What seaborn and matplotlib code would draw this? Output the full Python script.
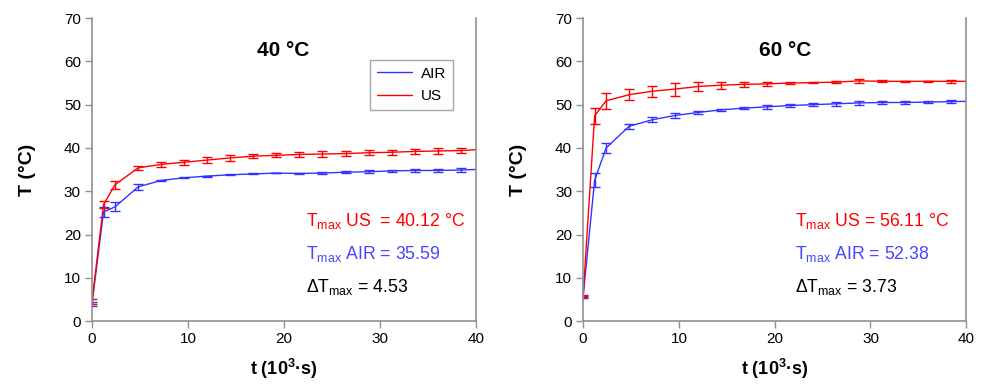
import matplotlib
matplotlib.use("Agg")
import matplotlib.pyplot as plt
import seaborn as sns
import pandas as pd

# ---- data ----
t = [0, 1.2, 2.4, 4.8, 7.2, 9.6, 12, 14.4, 16.8, 19.2, 21.6, 24, 26.4, 28.8, 31.2, 33.6, 36, 38.4, 40.8]

us_40 = [4.5, 26.9, 31.5, 35.4, 36.2, 36.7, 37.2, 37.7, 38.1, 38.3, 38.5, 38.6, 38.7, 38.9, 39.0, 39.2, 39.3, 39.4, 39.7]
us_40_err = [0.5, 0.8, 0.9, 0.5, 0.6, 0.6, 0.6, 0.6, 0.5, 0.5, 0.6, 0.6, 0.6, 0.6, 0.6, 0.6, 0.6, 0.5, 0.5]
air_40 = [4.0, 25.2, 26.4, 31.0, 32.5, 33.1, 33.5, 33.8, 34.0, 34.2, 34.1, 34.2, 34.4, 34.5, 34.7, 34.8, 34.8, 34.9, 35.1]
air_40_err = [0.5, 1.1, 1.0, 0.6, 0.2, 0.15, 0.1, 0.1, 0.1, 0.1, 0.2, 0.2, 0.2, 0.3, 0.3, 0.3, 0.3, 0.4, 0.4]

us_60 = [5.8, 47.4, 50.9, 52.3, 53.1, 53.6, 54.2, 54.5, 54.7, 54.8, 55.0, 55.1, 55.2, 55.5, 55.4, 55.4, 55.4, 55.4, 55.4]
us_60_err = [0.3, 1.8, 1.8, 1.3, 1.3, 1.5, 1.0, 0.8, 0.6, 0.4, 0.2, 0.1, 0.2, 0.4, 0.2, 0.1, 0.1, 0.3, 0.3]
air_60 = [5.6, 32.5, 40.0, 45.0, 46.5, 47.5, 48.2, 48.8, 49.2, 49.5, 49.8, 50.0, 50.2, 50.4, 50.5, 50.5, 50.6, 50.7, 50.8]
air_60_err = [0.3, 1.6, 1.2, 0.6, 0.6, 0.5, 0.3, 0.3, 0.3, 0.4, 0.4, 0.3, 0.4, 0.4, 0.4, 0.4, 0.3, 0.3, 0.3]

titles = ["40 °C", "60 °C"]
ann_us = ["40.12 °C", "56.11 °C"]
ann_air = ["35.59", "52.38"]
ann_dt = ["4.53", "3.73"]
us_sep = ["  = ", " = "]

RED = "#ff0000"
BLUE = "#3333ff"
BLUE_TXT = "#4646ff"

sns.set_theme(style="white")
plt.rcParams["font.family"] = ["Liberation Sans", "DejaVu Sans"]
plt.rcParams["mathtext.fontset"] = "custom"
plt.rcParams["mathtext.rm"] = "Liberation Sans"
plt.rcParams["mathtext.it"] = "Liberation Sans:italic"
plt.rcParams["mathtext.bf"] = "Liberation Sans:bold"
plt.rcParams["text.color"] = "black"
plt.rcParams["axes.labelcolor"] = "black"

fig = plt.figure(figsize=(9.85, 3.85), dpi=100)
ax1 = fig.add_axes([0.0934, 0.166, 0.390, 0.787])
ax2 = fig.add_axes([0.592, 0.166, 0.389, 0.787])

datasets = [(ax1, us_40, us_40_err, air_40, air_40_err),
            (ax2, us_60, us_60_err, air_60, air_60_err)]

for i, (ax, us, us_e, air, air_e) in enumerate(datasets):
    df = pd.DataFrame({"t": t * 2, "T": air + us,
                       "grp": ["AIR"] * len(t) + ["US"] * len(t)})
    sns.lineplot(data=df, x="t", y="T", hue="grp", palette={"AIR": BLUE, "US": RED},
                 ax=ax, linewidth=1.0, legend=(i == 0), estimator=None)
    ax.errorbar(t, air, yerr=air_e, fmt="none", ecolor=BLUE, elinewidth=1.0,
                capsize=3.5, capthick=1.0)
    ax.errorbar(t, us, yerr=us_e, fmt="none", ecolor=RED, elinewidth=1.0,
                capsize=3.5, capthick=1.0)
    ax.set_xlim(0, 40)
    ax.set_ylim(0, 70)
    ax.set_xticks(range(0, 41, 10))
    ax.set_yticks(range(0, 71, 10))
    for s in ["left", "bottom", "right"]:
        ax.spines[s].set_visible(True)
        ax.spines[s].set_color("#909090")
        ax.spines[s].set_linewidth(1.2)
    ax.spines["top"].set_visible(False)
    ax.tick_params(axis="both", which="major", direction="out", length=5, width=1,
                   color="#909090", labelcolor="black", labelsize=11, pad=3,
                   left=True, bottom=True)
    ax.set_xlabel(r"t (10$^{\mathbf{3}}$·s)", fontsize=13, fontweight="bold", labelpad=8)
    ax.set_ylabel("T (°C)", fontsize=14, fontweight="bold", labelpad=20)
    tx = 0.497 if i == 0 else 0.527
    ax.text(tx, 0.894, titles[i], transform=ax.transAxes, ha="center", va="center",
            fontsize=15, fontweight="bold")
    x0 = 0.557 if i == 0 else 0.553
    ax.text(x0, 0.33, r"T$_{\mathregular{max}}$ US" + us_sep[i] + ann_us[i],
            transform=ax.transAxes, color=RED, fontsize=12.7, va="center", ha="left")
    ax.text(x0, 0.222, r"T$_{\mathregular{max}}$ AIR = " + ann_air[i],
            transform=ax.transAxes, color=BLUE_TXT, fontsize=12.7, va="center", ha="left")
    ax.text(x0, 0.112, r"ΔT$_{\mathregular{max}}$ = " + ann_dt[i],
            transform=ax.transAxes, color="black", fontsize=12.7, va="center", ha="left")

leg = ax1.legend(loc="upper right", bbox_to_anchor=(0.94, 0.862), frameon=True,
                 fancybox=False, edgecolor="#909090", fontsize=11, handlelength=2.3,
                 borderpad=0.45, labelspacing=0.55, handletextpad=0.6, borderaxespad=0)
leg.get_frame().set_linewidth(1.0)
for line in leg.get_lines():
    line.set_linewidth(1.0)
for txt in leg.get_texts():
    txt.set_color("black")

fig.savefig("out.png", dpi=100)
